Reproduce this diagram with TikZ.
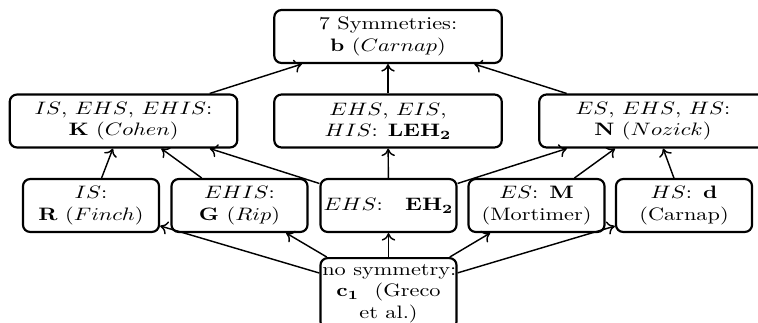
\documentclass[tikz,border=0pt]{standalone}
\usepackage{graphicx}
\usetikzlibrary{arrows.meta}
\newcommand{\hs}[1]{\scalebox{1.24}[1]{#1}}
\tikzset{
  box/.style={draw, line width=1.2pt, rounded corners=4pt, align=center,
    inner xsep=1pt, inner ysep=3.33pt, minimum height=29.4pt},
  widebox/.style={box, text width=124.4pt},
  narrowbox/.style={box, text width=73.6pt},
  conn/.style={-{Computer Modern Rightarrow[length=4.2pt,width=7.5pt]}, line width=0.8pt}
}
\begin{document}
\begin{tikzpicture}[x=0.5556pt, y=-0.5556pt]
\useasboundingbox (0,0) rectangle (758,322);
% top
\node[widebox] (b) at (388,36.5) {\hs{7 Symmetries:}\\\hs{\textbf{b} ($Carnap$)}};
% row 2
\node[widebox] (K) at (123.5,121) {\hs{$IS$, $EHS$, $EHIS$:}\\\hs{\textbf{K} ($Cohen$)}};
\node[widebox] (L) at (388,121) {\hs{$EHS$, $EIS$,}\\\hs{$HIS$:\hspace{4.5pt}$\mathbf{LEH_2}$}};
\node[widebox] (N) at (653,121) {\hs{$ES$, $EHS$, $HS$:}\hspace*{10pt}\\\hs{\textbf{N} ($Nozick$)}\hspace*{10pt}};
% row 3
\node[narrowbox] (R) at (91,205.5) {\hs{$IS$:}\\\hs{\textbf{R} ($Finch$)}};
\node[narrowbox] (G) at (239.5,205.5) {\hs{$EHIS$:}\\\hs{\textbf{G} ($Rip$)}};
\node[narrowbox] (E) at (388.5,205.5) {\hs{$EHS$:\hspace{10pt}$\mathbf{EH_2}$}};
\node[narrowbox] (M) at (536.5,205.5) {\hs{$ES$: \textbf{M}}\\\hs{(Mortimer)}};
\node[narrowbox] (D) at (684,205.5) {\hs{$HS$: \textbf{d}}\\\hs{(Carnap)}};
% bottom
\node[narrowbox, anchor=north] (C) at (388.5,257) {\hs{no symmetry:}\\\hs{$\mathbf{c_1}$\hspace{7pt}(Greco}\\\hs{et al.)}};
% connectors
\draw[conn] (K) -- (b);
\draw[conn] (L) -- (b);
\draw[conn] (N) -- (b);
\draw[conn] (R) -- (K);
\draw[conn] (G) -- (K);
\draw[conn] (E) -- (K);
\draw[conn] (E) -- (L);
\draw[conn] (E) -- (N);
\draw[conn] (M) -- (N);
\draw[conn] (D) -- (N);
\draw[conn] (C) -- (R);
\draw[conn] (C) -- (G);
\draw[conn] (C) -- (E);
\draw[conn] (C) -- (M);
\draw[conn] (C) -- (D);
\end{tikzpicture}
\end{document}
